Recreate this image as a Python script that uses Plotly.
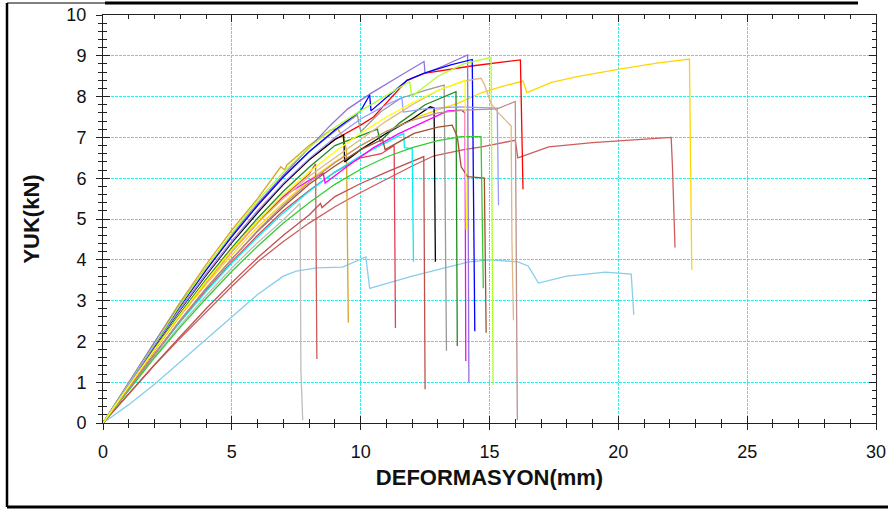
import plotly.graph_objects as go

# ---- data: load (kN) vs deformation (mm) for each specimen ----
names = ["S01", "S02", "S03", "S04", "S05", "S06", "S07", "S08", "S09", "S10", "S11",
         "S12", "S13", "S14", "S15", "S16", "S17", "S18", "S19", "S20", "S21", "S22", "S23"]

colors = ["#87CEEB", "#FFD700", "#CD5C5C", "#FF0000", "#BDBDBD", "#CD5C5C", "#DAA520",
          "#E0405A", "#C0504D", "#00F0F0", "#000000", "#999999", "#228B22", "#FF00FF",
          "#9370DB", "#0000FF", "#A0522D", "#32CD32", "#ADFF2F", "#9999FF", "#DEB887",
          "#BC8F8F", "#FFFF00"]

x01 = [0, 1, 2, 3, 4, 5, 6, 7, 7.5, 8.3, 9.3, 10.2, 10.35, 12, 14.2, 15, 16.1, 16.5, 16.9, 18, 19.5, 20.5, 20.6]
y01 = [0, 0.45, 0.95, 1.5, 2.05, 2.6, 3.15, 3.6, 3.72, 3.8, 3.82, 4.07, 3.3, 3.6, 3.95, 4.0, 3.95, 3.85, 3.43, 3.6, 3.7, 3.65, 2.65]

x02 = [0, 1, 2, 3, 4, 5, 6, 7, 8, 9, 10, 11, 12, 13, 13.75, 14.7, 15.5, 16.3, 16.45, 17.4, 18.5, 20.1, 21.5, 22.76, 22.8, 22.85]
y02 = [0, 0.9, 1.78, 2.62, 3.4, 4.12, 4.8, 5.4, 5.95, 6.4, 6.8, 7.15, 7.45, 7.68, 7.83, 8.1, 8.25, 8.38, 8.1, 8.35, 8.5, 8.68, 8.82, 8.92, 6.3, 3.75]

x03 = [0, 1, 2, 3, 4, 5, 6, 7, 8, 9, 10, 11, 12, 12.85, 14, 14.7, 16.0, 16.1, 17.3, 19, 22.05, 22.1, 22.2]
y03 = [0, 0.72, 1.42, 2.08, 2.72, 3.35, 3.95, 4.45, 4.9, 5.3, 5.65, 5.98, 6.3, 6.55, 6.7, 6.77, 6.93, 6.5, 6.77, 6.87, 7.0, 6.3, 4.3]

x04 = [0, 1, 2, 3, 4, 5, 6, 7, 8, 9, 10, 10.5, 11.8, 12.45, 14.3, 16.2, 16.25, 16.3]
y04 = [0, 0.95, 1.9, 2.8, 3.65, 4.45, 5.2, 5.85, 6.45, 6.95, 7.3, 7.5, 8.4, 8.57, 8.75, 8.9, 7.18, 5.73]

x05 = [0, 1, 2, 3, 4, 5, 6, 7, 7.65, 7.68, 7.75]
y05 = [0, 0.82, 1.63, 2.4, 3.12, 3.8, 4.42, 4.98, 5.38, 1.3, 0.07]

x06 = [0, 1, 2, 3, 4, 5, 6, 7, 8, 8.25, 8.3]
y06 = [0, 0.9, 1.8, 2.68, 3.5, 4.25, 4.95, 5.55, 6.1, 6.35, 1.57]

x07 = [0, 1, 2, 3, 4, 5, 6, 6.5, 6.9, 7.05, 7.13, 8, 8.83, 9.1, 9.3, 9.45, 9.52]
y07 = [0, 1.0, 2.0, 2.97, 3.88, 4.73, 5.5, 5.95, 6.28, 6.2, 6.32, 6.8, 7.18, 7.22, 7.02, 6.7, 2.46]

x08 = [0, 1, 2, 3, 4, 5, 6, 7, 8, 9, 10, 10.8, 11.3, 11.35]
y08 = [0, 0.85, 1.7, 2.5, 3.25, 3.95, 4.6, 5.2, 5.7, 6.15, 6.5, 6.6, 6.8, 2.33]

x09 = [0, 1, 2, 3, 4, 5, 6, 7, 8, 8.44, 8.5, 9, 10, 11, 12, 12.45, 12.5]
y09 = [0, 0.72, 1.43, 2.12, 2.8, 3.44, 4.05, 4.6, 5.1, 5.38, 5.28, 5.55, 5.87, 6.15, 6.4, 6.53, 0.83]

x10 = [0, 1, 2, 3, 4, 5, 6, 7, 8, 9, 10, 11, 11.67, 11.7, 12.0, 12.05]
y10 = [0, 0.85, 1.68, 2.48, 3.22, 3.92, 4.56, 5.15, 5.68, 6.15, 6.55, 6.88, 7.1, 6.75, 6.72, 3.95]

x11 = [0, 1, 2, 3, 4, 5, 6, 7, 8, 9, 9.34, 9.38, 10, 11, 12, 12.7, 12.85, 12.9]
y11 = [0, 0.95, 1.88, 2.78, 3.62, 4.42, 5.15, 5.85, 6.45, 6.95, 7.06, 6.4, 6.7, 7.1, 7.45, 7.75, 7.72, 3.95]

x12 = [0, 1, 2, 3, 4, 5, 6, 7, 8, 9, 9.87, 10.0, 10.78, 11.56, 12.5, 13.24, 13.33]
y12 = [0, 0.97, 1.93, 2.87, 3.75, 4.58, 5.35, 6.05, 6.65, 7.15, 7.55, 7.14, 7.63, 7.96, 8.15, 8.28, 1.77]

x13 = [0, 1, 2, 3, 4, 5, 6, 7, 8, 9, 10.65, 10.75, 11.5, 12.5, 13.7, 13.75]
y13 = [0, 0.92, 1.83, 2.7, 3.52, 4.3, 5.02, 5.68, 6.27, 6.8, 7.2, 6.9, 7.35, 7.8, 8.12, 1.89]

x14 = [0, 1, 2, 3, 4, 5, 6, 7, 8, 8.55, 8.62, 9.5, 10.5, 11.5, 12.5, 13.37, 13.9, 14.05, 14.08]
y14 = [0, 0.9, 1.8, 2.65, 3.45, 4.2, 4.9, 5.55, 5.95, 6.12, 5.88, 6.3, 6.75, 7.1, 7.4, 7.65, 7.67, 7.6, 1.52]

x15 = [0, 1, 2, 3, 4, 5, 6, 7, 8, 8.83, 9.5, 10.4, 11.5, 12.46, 12.5, 13.2, 14.15, 14.2]
y15 = [0, 1.0, 1.98, 2.92, 3.8, 4.62, 5.38, 6.08, 6.75, 7.3, 7.7, 8.08, 8.5, 8.86, 8.57, 8.75, 9.02, 0.99]

x16 = [0, 1, 2, 3, 4, 5, 6, 7, 8, 9, 10, 10.35, 10.4, 11, 11.8, 12.5, 13.5, 14.33, 14.43]
y16 = [0, 0.97, 1.93, 2.87, 3.75, 4.57, 5.33, 6.03, 6.65, 7.18, 7.65, 8.04, 7.65, 7.98, 8.4, 8.58, 8.78, 8.91, 2.25]

x17 = [0, 1, 2, 3, 4, 5, 6, 7, 8, 9, 10, 10.85, 10.95, 12.07, 13.0, 13.55, 13.75, 13.9, 14.15, 14.8, 14.87]
y17 = [0, 0.85, 1.7, 2.52, 3.3, 4.02, 4.7, 5.3, 5.85, 6.3, 6.7, 6.95, 6.7, 7.1, 7.25, 7.3, 7.02, 6.28, 6.04, 6.0, 2.21]

x18 = [0, 1, 2, 3, 4, 5, 6, 7, 8, 9, 10, 11, 12, 13, 13.9, 14.67, 14.76]
y18 = [0, 0.8, 1.6, 2.35, 3.05, 3.72, 4.33, 4.9, 5.4, 5.85, 6.22, 6.52, 6.75, 6.92, 7.02, 7.02, 3.3]

x19 = [0, 1, 2, 3, 4, 5, 6, 7, 8, 9, 10, 11.9, 11.98, 13, 14, 15.06, 15.14]
y19 = [0, 0.97, 1.95, 2.9, 3.8, 4.65, 5.45, 6.15, 6.75, 7.25, 7.65, 8.37, 8.0, 8.5, 8.8, 8.96, 0.93]

x20 = [0, 1, 2, 3, 4, 5, 6, 7, 8, 9, 10, 11, 11.6, 11.65, 12.5, 13.8, 15.3, 15.35]
y20 = [0, 0.95, 1.9, 2.8, 3.65, 4.45, 5.2, 5.88, 6.48, 7.0, 7.45, 7.8, 7.97, 7.62, 7.7, 7.75, 7.72, 5.34]

x21 = [0, 1, 2, 3, 4, 5, 6, 7, 8, 9, 10, 11, 12, 13, 14, 14.67, 14.8, 15.06, 15.3, 15.84, 15.87, 15.93]
y21 = [0, 0.9, 1.8, 2.65, 3.45, 4.2, 4.9, 5.5, 6.05, 6.5, 6.95, 7.4, 7.8, 8.15, 8.38, 8.45, 8.3, 7.83, 7.63, 7.28, 4.49, 2.52]

x22 = [0, 1, 2, 3, 4, 5, 6, 7, 8, 9, 10, 11, 12, 13, 14, 15.3, 16.0, 16.08]
y22 = [0, 0.85, 1.7, 2.52, 3.3, 4.02, 4.72, 5.35, 5.9, 6.38, 6.8, 7.15, 7.42, 7.6, 7.67, 7.7, 7.88, 0.07]

x23 = [0, 1, 2, 3, 4, 5, 6, 7, 8, 9, 10, 11, 12, 13, 14.05, 14.1]
y23 = [0, 0.9, 1.8, 2.66, 3.48, 4.25, 4.95, 5.6, 6.15, 6.65, 7.1, 7.5, 7.85, 8.15, 8.4, 4.73]

xs = [x01, x02, x03, x04, x05, x06, x07, x08, x09, x10, x11, x12,
      x13, x14, x15, x16, x17, x18, x19, x20, x21, x22, x23]
ys = [y01, y02, y03, y04, y05, y06, y07, y08, y09, y10, y11, y12,
      y13, y14, y15, y16, y17, y18, y19, y20, y21, y22, y23]

x_ticks = [0, 5, 10, 15, 20, 25, 30]
y_ticks = [0, 1, 2, 3, 4, 5, 6, 7, 8, 9, 10]

# ---- figure ----
W, H = 888, 510
ML, MR, MT, MB = 103, 12, 15, 87

fig = go.Figure()
for n, c, xv, yv in zip(names, colors, xs, ys):
    fig.add_trace(go.Scatter(x=xv, y=yv, mode="lines", name=n,
                             line=dict(color=c, width=1.3), showlegend=False,
                             hoverinfo="skip"))
# dummy trace to activate overlay axes
fig.add_trace(go.Scatter(x=[None], y=[None], xaxis="x2", yaxis="y2",
                         mode="lines", showlegend=False, hoverinfo="skip"))

tickfont = dict(family="Liberation Sans, Arial, sans-serif", size=18, color="#111")
titlefont = dict(family="Liberation Sans, Arial, sans-serif", size=22, color="#111")
GRID = "#20F2F2"

fig.update_layout(
    width=W, height=H,
    margin=dict(l=ML, r=MR, t=MT, b=MB, pad=0),
    paper_bgcolor="white", plot_bgcolor="white",
    xaxis=dict(range=[0, 30], tickvals=x_ticks, ticktext=[str(v) for v in x_ticks],
               automargin=False,
               showgrid=True, gridcolor=GRID, griddash="3px,1px", gridwidth=1,
               zeroline=False, showline=True, linecolor="#222", linewidth=1,
               ticks="outside", ticklen=6, tickcolor="#222", tickwidth=1,
               minor=dict(dtick=1, ticks="outside", ticklen=4, tickcolor="#222", showgrid=False),
               tickfont=tickfont, ticklabelstandoff=6,
               title=dict(text="<b>DEFORMASYON(mm)</b>", font=titlefont, standoff=9)),
    yaxis=dict(range=[0, 10], tickvals=y_ticks, ticktext=[str(v) for v in y_ticks],
               automargin=False,
               showgrid=True, gridcolor=GRID, griddash="3px,1px", gridwidth=1,
               zeroline=False, showline=True, linecolor="#222", linewidth=1,
               ticks="outside", ticklen=6, tickcolor="#222", tickwidth=1,
               minor=dict(dtick=0.2, ticks="outside", ticklen=4, tickcolor="#222", showgrid=False),
               tickfont=tickfont, ticklabelstandoff=6,
               title=dict(text="<b>YUK(kN)</b>", font=titlefont, standoff=20)),
    xaxis2=dict(range=[0, 30], overlaying="x", anchor="y2", side="bottom",
                automargin=False,
                showgrid=False, zeroline=False, showline=True, mirror="allticks",
                linecolor="#222", linewidth=1, showticklabels=False,
                tickvals=x_ticks, ticks="inside", ticklen=7, tickcolor="#222",
                minor=dict(dtick=1, ticks="inside", ticklen=4, tickcolor="#222")),
    yaxis2=dict(range=[0, 10], overlaying="y", anchor="x2", side="left",
                automargin=False,
                showgrid=False, zeroline=False, showline=True, mirror="allticks",
                linecolor="#222", linewidth=1, showticklabels=False,
                tickvals=y_ticks, ticks="inside", ticklen=7, tickcolor="#222",
                minor=dict(dtick=0.2, ticks="inside", ticklen=4, tickcolor="#222")),
)

# ---- page frame (pixel positions converted to paper coords) ----
PW, PH = W - ML - MR, H - MT - MB
def px(xp):
    return (xp - ML) / PW
def py(yp):
    return (H - MB - yp) / PH

frame = [
    (7, 3, 7, 507, 2.5),
    (7, 507, 888, 507, 3),
    (7, 3, 105, 3, 1),
    (105, 3, 858, 3, 3),
]
for x0, y0, x1, y1, w in frame:
    fig.add_shape(type="line", xref="paper", yref="paper",
                  x0=px(x0), y0=py(y0), x1=px(x1), y1=py(y1),
                  line=dict(color="black", width=w), layer="above")

# remove default page margin so the figure sits at the window's top-left corner
fig.write_html("out.html",
               config={"displayModeBar": False, "staticPlot": True},
               post_script="document.body.style.margin='0';document.body.style.overflow='hidden';")
